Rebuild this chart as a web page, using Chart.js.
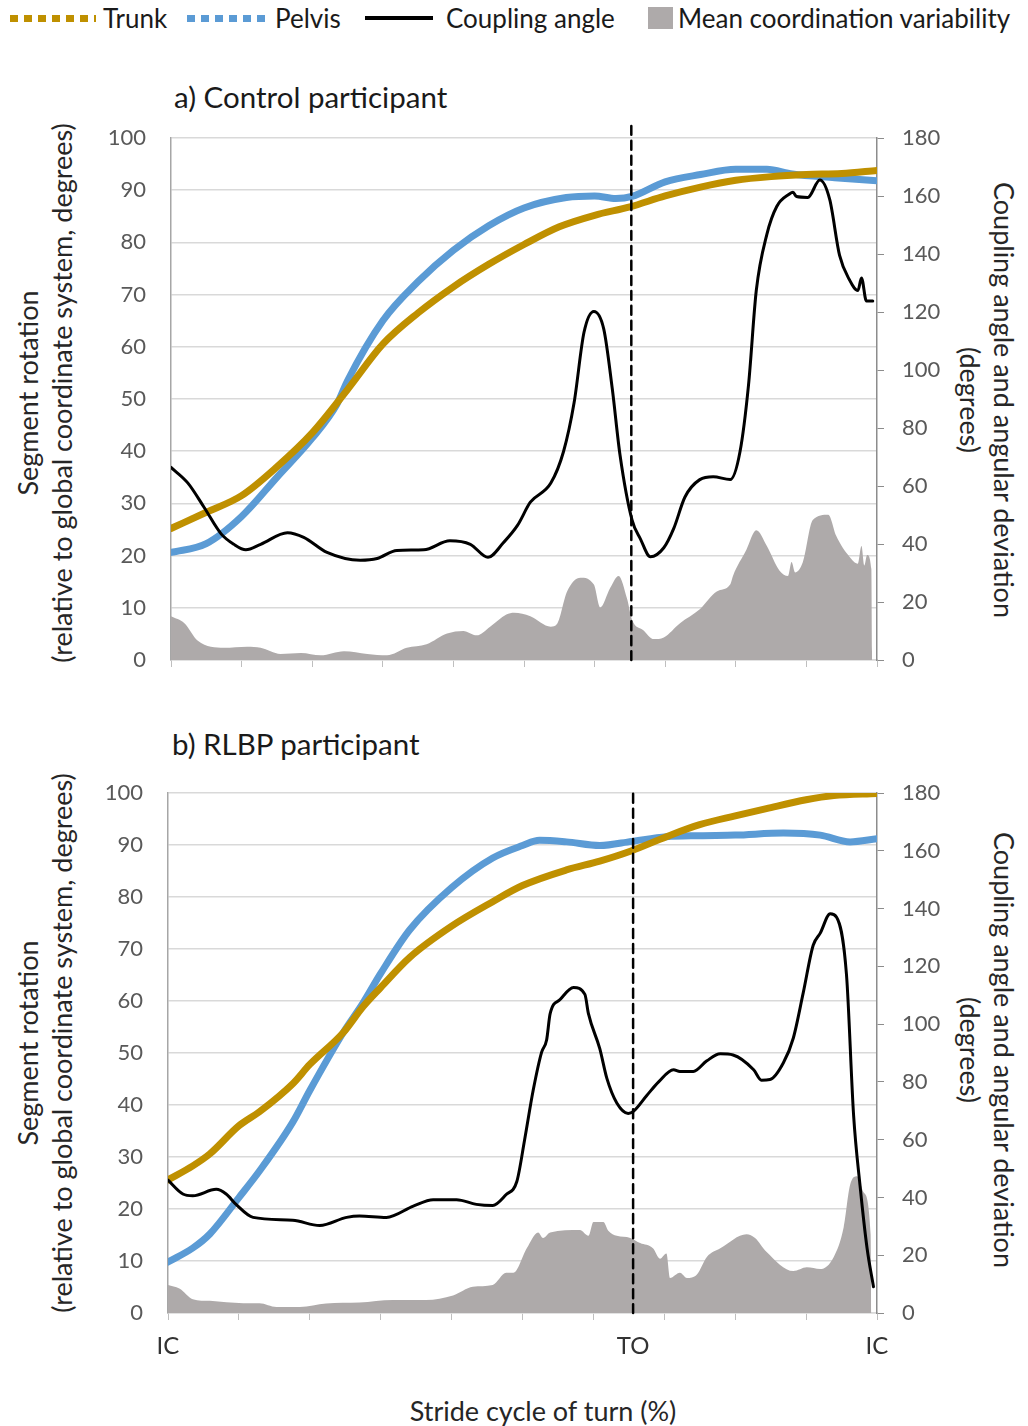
<!DOCTYPE html>
<html lang="en">
<head>
<meta charset="UTF-8">
<title>Trunk and pelvis coordination</title>
<script src="https://cdn.jsdelivr.net/npm/chart.js"></script>
<style>
  body { margin:0; width:1028px; height:1426px; position:relative; background:#fff;
         font-family: Lato, "Open Sans", sans-serif; color:#1a1a1a; overflow:hidden; }
  .abs { position:absolute; white-space:nowrap; }
  .leg { font-size:26px; line-height:30px; top:3px; }
  .ptitle { font-size:29.5px; line-height:34px; }
  .vtitle { position:absolute; white-space:nowrap; font-size:27px; line-height:34px; text-align:center; color:#262626; }
  .vleft { transform: translate(-50%, -50%) rotate(-90deg); }
  .vright { transform: translate(-50%, -50%) rotate(90deg); }
  .wrap { position:absolute; left:0; width:1028px; }
</style>
</head>
<body>
  <!-- legend -->
  <div class="abs" style="left:10px;top:15px;width:86px;height:7px;background:repeating-linear-gradient(90deg,#BF9000 0 8px,transparent 8px 14px);"></div>
  <div class="abs leg" style="left:103px;">Trunk</div>
  <div class="abs" style="left:187px;top:15px;width:80px;height:7px;background:repeating-linear-gradient(90deg,#5B9BD5 0 8px,transparent 8px 14px);"></div>
  <div class="abs leg" style="left:275px;">Pelvis</div>
  <div class="abs" style="left:365px;top:16px;width:68px;height:4px;background:#000;"></div>
  <div class="abs leg" style="left:446px;">Coupling angle</div>
  <div class="abs" style="left:648px;top:7px;width:25px;height:22px;background:#AEAAAA;"></div>
  <div class="abs leg" style="left:678px;">Mean coordination variability</div>

  <div class="abs ptitle" style="left:174px;top:80px;">a) Control participant</div>
  <div class="abs ptitle" style="left:172px;top:727px;">b) RLBP participant</div>

  <div class="vtitle vleft" style="left:45px;top:393px;">Segment rotation<br>(relative to global coordinate system, degrees)</div>
  <div class="vtitle vright" style="left:987px;top:400px;">Coupling angle and angular deviation<br>(degrees)</div>
  <div class="vtitle vleft" style="left:45px;top:1043px;">Segment rotation<br>(relative to global coordinate system, degrees)</div>
  <div class="vtitle vright" style="left:987px;top:1050px;">Coupling angle and angular deviation<br>(degrees)</div>

  <div class="abs" style="left:543px;top:1410px;transform:translate(-50%,-50%);font-size:27px;color:#262626;">Stride cycle of turn (%)</div>

  <div class="wrap" style="top:98px;height:602px;"><canvas id="chartA" width="1028" height="602"></canvas></div>
  <div class="wrap" style="top:753px;height:617px;"><canvas id="chartB" width="1028" height="617"></canvas></div>

<script>
// x = % of stride cycle (IC = 0, TO, IC = 100)
const xTicks = [0, 10, 20, 30, 40, 50, 60, 70, 80, 90, 100];

// ---- a) Control participant ----
const toA = 65.2;
const trunkA_x = [0, 5, 10, 15, 20, 25, 30, 35, 40, 45, 50, 55, 60, 65, 70, 75, 80, 85, 90, 95, 100];
const trunkA_y = [25.2, 28.3, 31.5, 37, 43.5, 51.8, 60.5, 66.5, 71.5, 75.8, 79.6, 83, 85.2, 86.8, 88.9, 90.6, 91.9, 92.6, 93, 93.2, 93.8];
const pelvisA_x = [0, 5, 10, 15, 20, 23.5, 25, 30, 35, 40, 45, 50, 56, 60, 63, 65.3, 70, 75, 80, 84.4, 88, 94, 100];
const pelvisA_y = [20.6, 22.3, 27.5, 35, 42.5, 49, 53.5, 65, 72.5, 78.5, 83.2, 86.6, 88.6, 88.9, 88.4, 88.8, 91.6, 93, 94, 94, 93.1, 92.4, 91.8];
const couplingA_x = [0, 2.4, 4.7, 7.1, 8.9, 10.6, 12.7, 16.5, 18.8, 22.1,
                     26.8, 29.2, 32, 35.8, 39.5, 42.4, 44.9, 47.1, 49.1, 50.9,
                     53.8, 55.6, 57.1, 58.5, 59.9, 61.3, 62.5, 63.6, 65.3, 66.5,
                     67.9, 69.8, 71.2, 72.8, 74.9, 76.8, 79.2, 80.6, 81.8, 82.9,
                     84.4, 85.8, 87.6, 88.1, 88.6, 90.2, 91.9, 93.3, 94.7, 96.1,
                     97.3, 97.8, 98.5, 99.4];
const couplingA_y = [66.4, 61, 52.6, 43.5, 39.9, 38, 39.9, 43.9, 42.3, 37.1,
                     34.4, 35, 37.8, 38, 41.1, 39.9, 35.4, 40.5, 46.5, 54.4,
                     61, 71.9, 88.8, 113, 120.2, 114.1, 93.6, 70.7, 48.3, 41.7,
                     35.6, 38.7, 45.3, 56.2, 62.2, 63.2, 62.2, 71.9, 94.8, 127.4,
                     146.8, 156.4, 160.7, 161.3, 159.8, 159.5, 165.5, 158.8, 139.5, 131.1,
                     127.4, 131.7, 123.8, 123.8];
const variabilityA_x = [0, 1.9, 3.8, 7.5, 10.8, 12.7, 15.5, 18.4, 21.2, 24.5,
                        27.8, 30.6, 33.4, 36.2, 39.1, 41.4, 43.3, 45.2, 47.5, 48.6,
                        50.9, 53.8, 54.7, 56.1, 58, 59.9, 60.8, 62.2, 63.4, 64.6,
                        65.3, 66.9, 68.4, 69.8, 72.1, 74.9, 77.3, 79.2, 79.6, 81.5,
                        82.9, 84.4, 86.2, 87.4, 87.9, 88.4, 89.5, 90.9, 93.1, 94.2,
                        96.1, 97.3, 97.8, 98.2, 98.6, 99.2, 99.3];
const variabilityA_y = [15.1, 12.7, 6.6, 4.2, 4.6, 4.2, 2.1, 2.4, 1.6, 3,
                        2.1, 1.6, 4.2, 5.4, 9.1, 10, 8.5, 11.5, 15.7, 16.3,
                        15.1, 11.5, 12.5, 23.6, 28.4, 26, 18.1, 24.8, 29, 21.1,
                        13.9, 10.3, 7.2, 7.8, 12.7, 17.5, 23.6, 26, 29, 38,
                        44.7, 39.3, 30.8, 29, 33.8, 30.2, 33.8, 48.3, 50.1, 42.9,
                        35.6, 33.2, 39.3, 32.6, 36.2, 31.4, 0];

// ---- b) RLBP participant ----
const toB = 65.6;
const trunkB_x = [0, 3.5, 5.9, 10, 12.9, 17.6, 20, 24.7, 27.5, 30, 34.1, 40, 45.8, 50, 56.2, 60.9, 65.4, 70.3, 75, 80, 84.4, 90, 93.9, 100];
const trunkB_y = [25.6, 28.3, 30.6, 36, 38.7, 44.1, 47.8, 53.9, 58.9, 62.6, 68.4, 74.4, 79.1, 82.2, 85.2, 86.9, 88.9, 91.6, 93.9, 95.6, 97, 98.7, 99.5, 99.9];
const pelvisB_x = [0, 3.5, 5.9, 10, 12.9, 17.6, 20, 24.7, 27.5, 30, 34.1, 40, 45.8, 50, 52.4, 56.2, 60.9, 65.4, 70.3, 75, 80, 86.8, 92, 96.2, 100];
const pelvisB_y = [9.8, 12.5, 15.2, 22.2, 27.3, 36.7, 42.8, 53.9, 59.6, 65.3, 73.7, 81.8, 87.5, 89.9, 90.9, 90.6, 89.9, 90.7, 91.6, 91.8, 91.9, 92.3, 91.9, 90.6, 91.2];
const couplingB_x = [0, 2.1, 3.5, 6.8, 8.2, 9.6, 12, 17.6, 21.4, 25.2,
                     27, 30.8, 34.6, 37.4, 40.7, 43.5, 45.8, 47.7, 49.2, 50.3,
                     51.5, 52.7, 53.4, 53.9, 55.3, 57.2, 58.8, 59.3, 60.9, 61.9,
                     63.3, 64.9, 65.6, 67.5, 69.2, 71.3, 72.2, 74.1, 76, 77.9,
                     79.7, 82.6, 83.7, 84.9, 86.8, 88.2, 89.6, 91, 92, 93.4,
                     94.3, 95.7, 96.7, 97.6, 98.6, 99.5];
const couplingB_y = [46, 41.2, 40.6, 42.8, 41.2, 37.6, 33.1, 32.1, 30.3, 33.1,
                     33.6, 33.1, 37, 39.2, 39.2, 37.6, 37.2, 41, 45.5, 60,
                     77, 90.3, 94.5, 103.6, 108.5, 112.7, 110.3, 103.6, 91.5, 81.2,
                     72.7, 69.1, 69.7, 75.2, 80, 84.2, 83.6, 83.6, 87.3, 89.7,
                     89.3, 84.2, 80.6, 80.8, 86.6, 95.2, 110.9, 127.3, 131.5, 138.2,
                     137, 117, 68.4, 44.3, 22.4, 9.1];
const variabilityB_x = [0, 1.6, 3.5, 5.9, 10.6, 12.9, 15.3, 18.6, 22.3, 27,
                        31.7, 36.4, 40.2, 43, 45.8, 47.7, 48.7, 50.6, 52.2, 52.9,
                        53.9, 58.1, 59.3, 60, 61.4, 62.1, 63.3, 65.2, 66.6, 68.4,
                        69.4, 70.3, 70.8, 72.2, 73.2, 74.6, 76, 77.9, 81.6, 82.8,
                        84.4, 88.2, 90.1, 92, 93.9, 95.3, 96.2, 97.2, 98.1, 99.1,
                        99.2];
const variabilityB_y = [9.7, 8.5, 4.8, 4.2, 3.4, 3.4, 2.1, 2.1, 3.3, 3.6,
                        4.5, 4.5, 6.1, 9.1, 9.7, 13.9, 13.9, 22.4, 27.9, 26,
                        27.9, 28.7, 26.7, 31.5, 31.5, 28.5, 26.7, 26, 24.2, 22.4,
                        18.8, 20.6, 12.1, 13.9, 12.1, 13.3, 19.4, 22.4, 27.3, 26,
                        21.2, 14.5, 15.8, 15.2, 19.4, 29.7, 44.3, 47.3, 41.8, 27.3,
                        0];

function pts(xs, ys) {
  return xs.map((x, i) => ({ x: x, y: ys[i] }));
}

const tickFont = { family: 'Lato', size: 22 };

function buildChart(id, s, box) {
  new Chart(document.getElementById(id), {
    type: 'line',
    data: {
      // first dataset is drawn on top
      datasets: [
        { label: 'TO', data: pts([s.to, s.to], [0, box.toTop]), yAxisID: 'y',
          borderColor: '#000', borderWidth: 2.5, borderDash: [9, 6], tension: 0, clip: false },
        { label: 'Coupling angle', data: pts(s.cx, s.cy), yAxisID: 'y2',
          borderColor: '#000', borderWidth: 3 },
        { label: 'Trunk', data: pts(s.tx, s.ty), yAxisID: 'y',
          borderColor: '#BF9000', borderWidth: 7 },
        { label: 'Pelvis', data: pts(s.px, s.py), yAxisID: 'y',
          borderColor: '#5B9BD5', borderWidth: 7 },
        { label: 'Mean coordination variability', data: pts(s.vx, s.vy), yAxisID: 'y2',
          fill: 'origin', backgroundColor: '#AEAAAA', borderWidth: 0, tension: 0 }
      ]
    },
    options: {
      responsive: false,
      animation: false,
      // padding is larger than the y axes' own label padding so it decides where the plot sits
      layout: { padding: { top: 40, left: 0, right: 0, bottom: 0 } },
      plugins: { legend: { display: false }, tooltip: { enabled: false } },
      elements: {
        point: { radius: 0 },
        line: { tension: 0.4, cubicInterpolationMode: 'monotone', borderCapStyle: 'round' }
      },
      scales: {
        x: {
          type: 'linear', min: 0, max: 100,
          afterBuildTicks: (sc) => {
            const t = xTicks.slice();
            if (box.labels) t.push(s.to);
            sc.ticks = t.sort((a, b) => a - b).map(v => ({ value: v }));
          },
          ticks: {
            autoSkip: false, maxRotation: 0, padding: 12,
            font: { family: 'Lato', size: 24 }, color: '#333',
            callback: (v) => {
              if (!box.labels) return '';
              if (v === 0 || v === 100) return 'IC';
              if (v === s.to) return 'TO';
              return '';
            }
          },
          grid: {
            drawOnChartArea: false, drawTicks: true, tickLength: 7,
            tickColor: (ctx) => (ctx.tick && ctx.tick.value === s.to) ? 'rgba(0,0,0,0)' : '#BFBFBF'
          },
          border: { color: '#D9D9D9', width: 1.5 },
          afterFit: (sc) => { sc.height = box.xh; }
        },
        y: {
          position: 'left', min: 0, max: 100,
          ticks: { stepSize: 10, padding: 25, font: tickFont, color: '#595959' },
          grid: { color: '#D9D9D9', lineWidth: 1.5, drawTicks: false },
          border: { color: '#A6A6A6', width: 1.5 },
          afterFit: (sc) => { sc.width = box.left; }
        },
        y2: {
          position: 'right', min: 0, max: 180,
          ticks: { stepSize: 20, padding: 18, font: tickFont, color: '#595959' },
          grid: { drawOnChartArea: false, drawTicks: true, tickLength: 7, color: '#8C8C8C' },
          border: { color: '#8C8C8C', width: 1.5 },
          afterFit: (sc) => { sc.width = 151; }
        }
      }
    }
  });
}

buildChart('chartA',
  { to: toA, tx: trunkA_x, ty: trunkA_y, px: pelvisA_x, py: pelvisA_y,
    cx: couplingA_x, cy: couplingA_y, vx: variabilityA_x, vy: variabilityA_y },
  { left: 171, xh: 40, labels: false, toTop: 102.5 });

buildChart('chartB',
  { to: toB, tx: trunkB_x, ty: trunkB_y, px: pelvisB_x, py: pelvisB_y,
    cx: couplingB_x, cy: couplingB_y, vx: variabilityB_x, vy: variabilityB_y },
  { left: 168, xh: 57, labels: true, toTop: 100 });
</script>
</body>
</html>
